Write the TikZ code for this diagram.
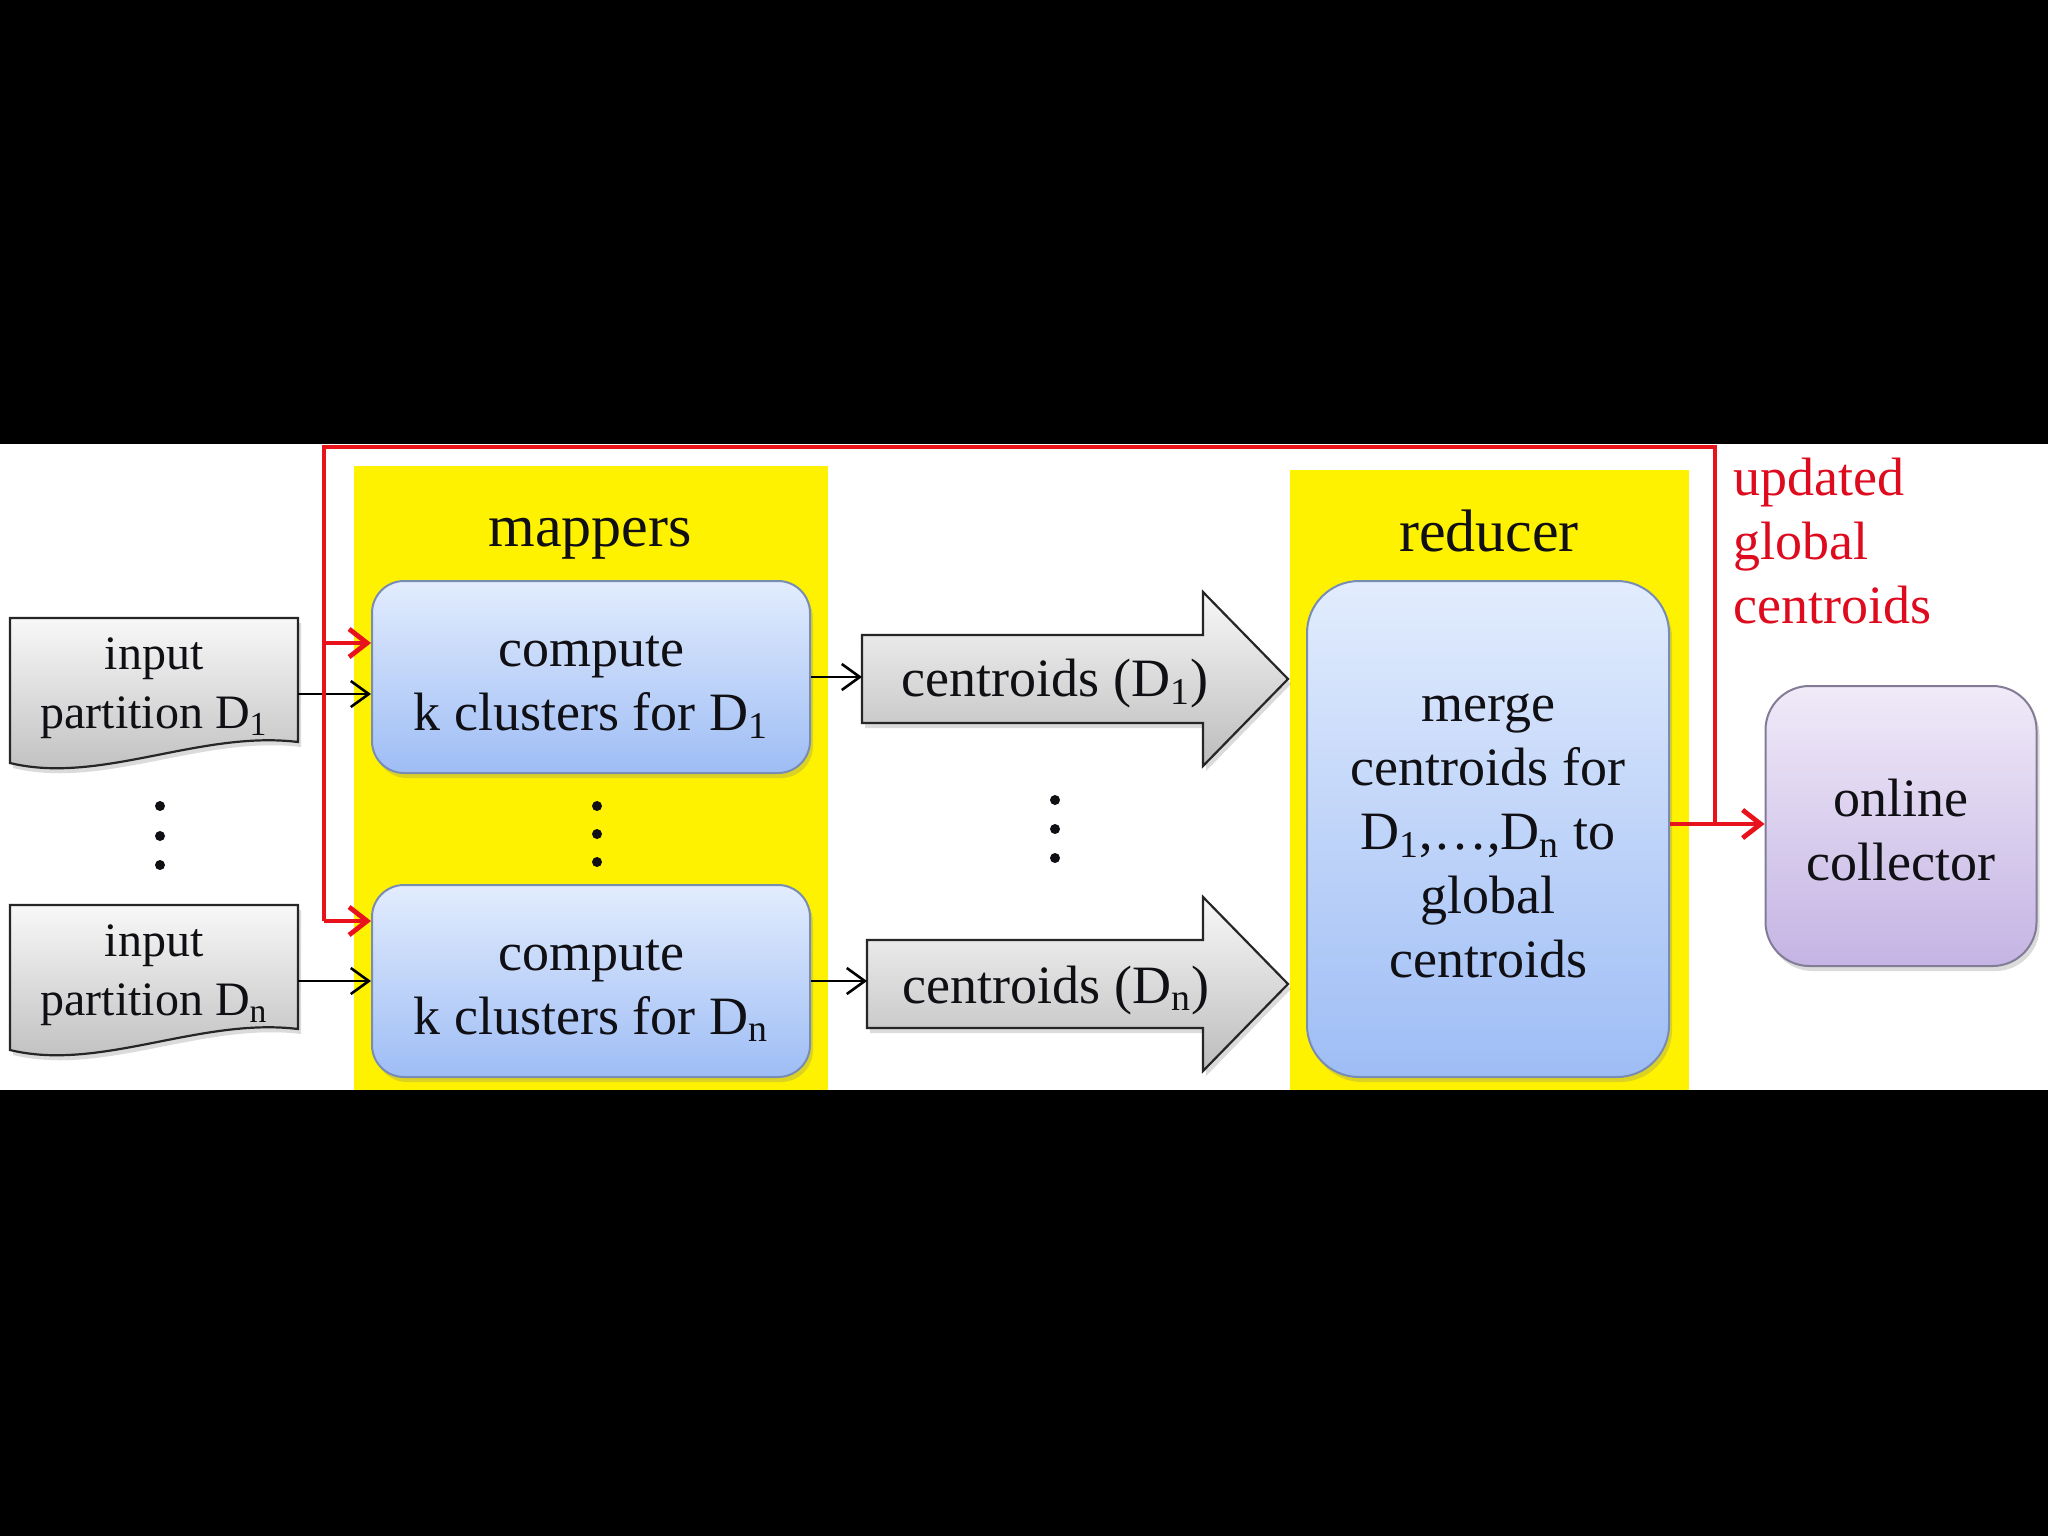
\documentclass[tikz,border=0pt]{standalone}
\usepackage{fontspec}
\setmainfont{Liberation Serif}
\usetikzlibrary{arrows.meta,shadows,calc}
\definecolor{redln}{RGB}{232,18,28}
\definecolor{redtx}{RGB}{222,10,30}
\definecolor{bluetop}{RGB}{226,236,253}
\definecolor{bluebot}{RGB}{158,189,245}
\definecolor{bluebd}{RGB}{120,140,180}
\definecolor{purptop}{RGB}{240,234,248}
\definecolor{purpbot}{RGB}{196,180,228}
\definecolor{purpbd}{RGB}{130,124,150}
\definecolor{graytop}{RGB}{248,248,248}
\definecolor{graybot}{RGB}{188,188,188}
\definecolor{txt}{RGB}{15,15,20}
\tikzset{
  bshadow/.style={drop shadow={opacity=0.28,shadow xshift=1.5pt,shadow yshift=-2.5pt}},
  rbox/.style={draw=bluebd, line width=1pt, top color=bluetop, bottom color=bluebot,
    inner sep=0pt, bshadow},
  mapbox/.style={rbox, rounded corners=16pt, minimum width=219pt, minimum height=96pt},
  redbox/.style={rbox, rounded corners=26pt, minimum width=181pt, minimum height=248pt},
  colbox/.style={draw=purpbd, line width=1pt, top color=purptop, bottom color=purpbot,
    rounded corners=22pt, minimum width=135.5pt, minimum height=140pt, inner sep=0pt, bshadow},
  grayshape/.style={draw=black!85, line width=1.1pt, top color=graytop, bottom color=graybot, bshadow},
  boxtxt/.style={align=center, inner sep=0pt, text=txt, font=\fontsize{27}{32}\selectfont},
  doctxt/.style={align=center, inner sep=0pt, text=txt, font=\fontsize{24}{29.5}\selectfont},
  arrtxt/.style={inner sep=0pt, text=txt, font=\fontsize{27}{32}\selectfont},
  headtxt/.style={inner sep=0pt, text=txt, font=\fontsize{30}{36}\selectfont},
  redtxt/.style={inner sep=0pt, align=left, text=redtx, font=\fontsize{27}{32}\selectfont},
  blk/.style={draw=black, line width=1.3pt, -{Straight Barb[length=9pt,width=13pt,line width=1.3pt]}},
  redl/.style={draw=redln, line width=2.4pt},
  reda/.style={redl, -{Straight Barb[length=9pt,width=14pt,line width=2.4pt]}},
  vdot/.style={fill=txt}
}
\begin{document}
\begin{tikzpicture}[x=0.5pt,y=-0.5pt]
\useasboundingbox (0,0) rectangle (2048,1536);
\fill[black] (0,0) rectangle (2048,1536);
\fill[white] (0,444) rectangle (2048,1090);
\fill[yellow] (354,466) rectangle (828,1090);
\fill[yellow] (1290,470) rectangle (1689,1090);

% headings
\node[headtxt] (hm) at (590,539) {mappers};
\node[headtxt] (hr) at (1489,531) {reducer};

% input documents
\path[grayshape] (10,618) -- (298,618) -- (298,742) .. controls (200,730) and (100,785) .. (10,763) -- cycle;
\path[grayshape] (10,905) -- (298,905) -- (298,1029) .. controls (200,1017) and (100,1072) .. (10,1050) -- cycle;
\node[doctxt] (in1) at (154,688) {input\\partition D\textsubscript{1}};
\node[doctxt] (inn) at (154,975) {input\\partition D\textsubscript{n}};
\coordinate (d1) at (298,694);
\coordinate (dn) at (298,981);

% mapper boxes
\node[mapbox] (m1) at (591,677) {};
\node[mapbox] (mn) at (591,981) {};
\node[boxtxt] (m1t) at (591,687) {compute\\k clusters for D\textsubscript{1}};
\node[boxtxt] (mnt) at (591,991) {compute\\k clusters for D\textsubscript{n}};

% block arrows
\path[grayshape] (862,635) -- (1203,635) -- (1203,592) -- (1288,679) -- (1203,766) -- (1203,723) -- (862,723) -- cycle;
\path[grayshape] (867,940) -- (1203,940) -- (1203,897) -- (1288,984) -- (1203,1071) -- (1203,1028) -- (867,1028) -- cycle;
\node[arrtxt] (c1) at (1055,684) {centroids (D\textsubscript{1})};
\node[arrtxt] (cn) at (1056,990) {centroids (D\textsubscript{n})};
\coordinate (a1) at (862,679);
\coordinate (an) at (867,984);

% reducer and collector
\node[redbox] (red) at (1488,829) {};
\node[boxtxt] (redt) at (1488,836) {merge\\centroids for\\D\textsubscript{1},…,D\textsubscript{n} to\\global\\centroids};
\node[colbox] (col) at (1901,826) {};
\node[boxtxt] (colt) at (1901,830) {online\\collector};

% red label
\node[redtxt, anchor=west] (upd) at (1733,541) {updated\\global\\centroids};

% dots
\foreach \y in {806,836,865} \fill[vdot] (160,\y) circle[radius=2.5pt];
\foreach \y in {806,834,862} \fill[vdot] (597,\y) circle[radius=2.5pt];
\foreach \y in {800,829,858} \fill[vdot] (1055,\y) circle[radius=2.5pt];

% black connectors
\draw[blk] (d1) -- (d1 -| m1.west);
\draw[blk] (dn) -- (dn -| mn.west);
\draw[blk] (m1.east) -- (a1 |- m1.east);
\draw[blk] (mn.east) -- (an |- mn.east);

% red feedback loop
\coordinate (rj) at (1715,824);
\coordinate (rtr) at (1715,447);
\coordinate (rtl) at (324,447);
\coordinate (rb1) at (324,643);
\coordinate (rbn) at (324,921);
\draw[reda] (red.east |- rj) -- (col.west |- rj);
\draw[redl] (rj) -- (rtr) -- (rtl) -- (rbn);
\draw[reda] (rb1) -- (rb1 -| m1.west);
\draw[reda] (rbn) -- (rbn -| mn.west);
\end{tikzpicture}
\end{document}
